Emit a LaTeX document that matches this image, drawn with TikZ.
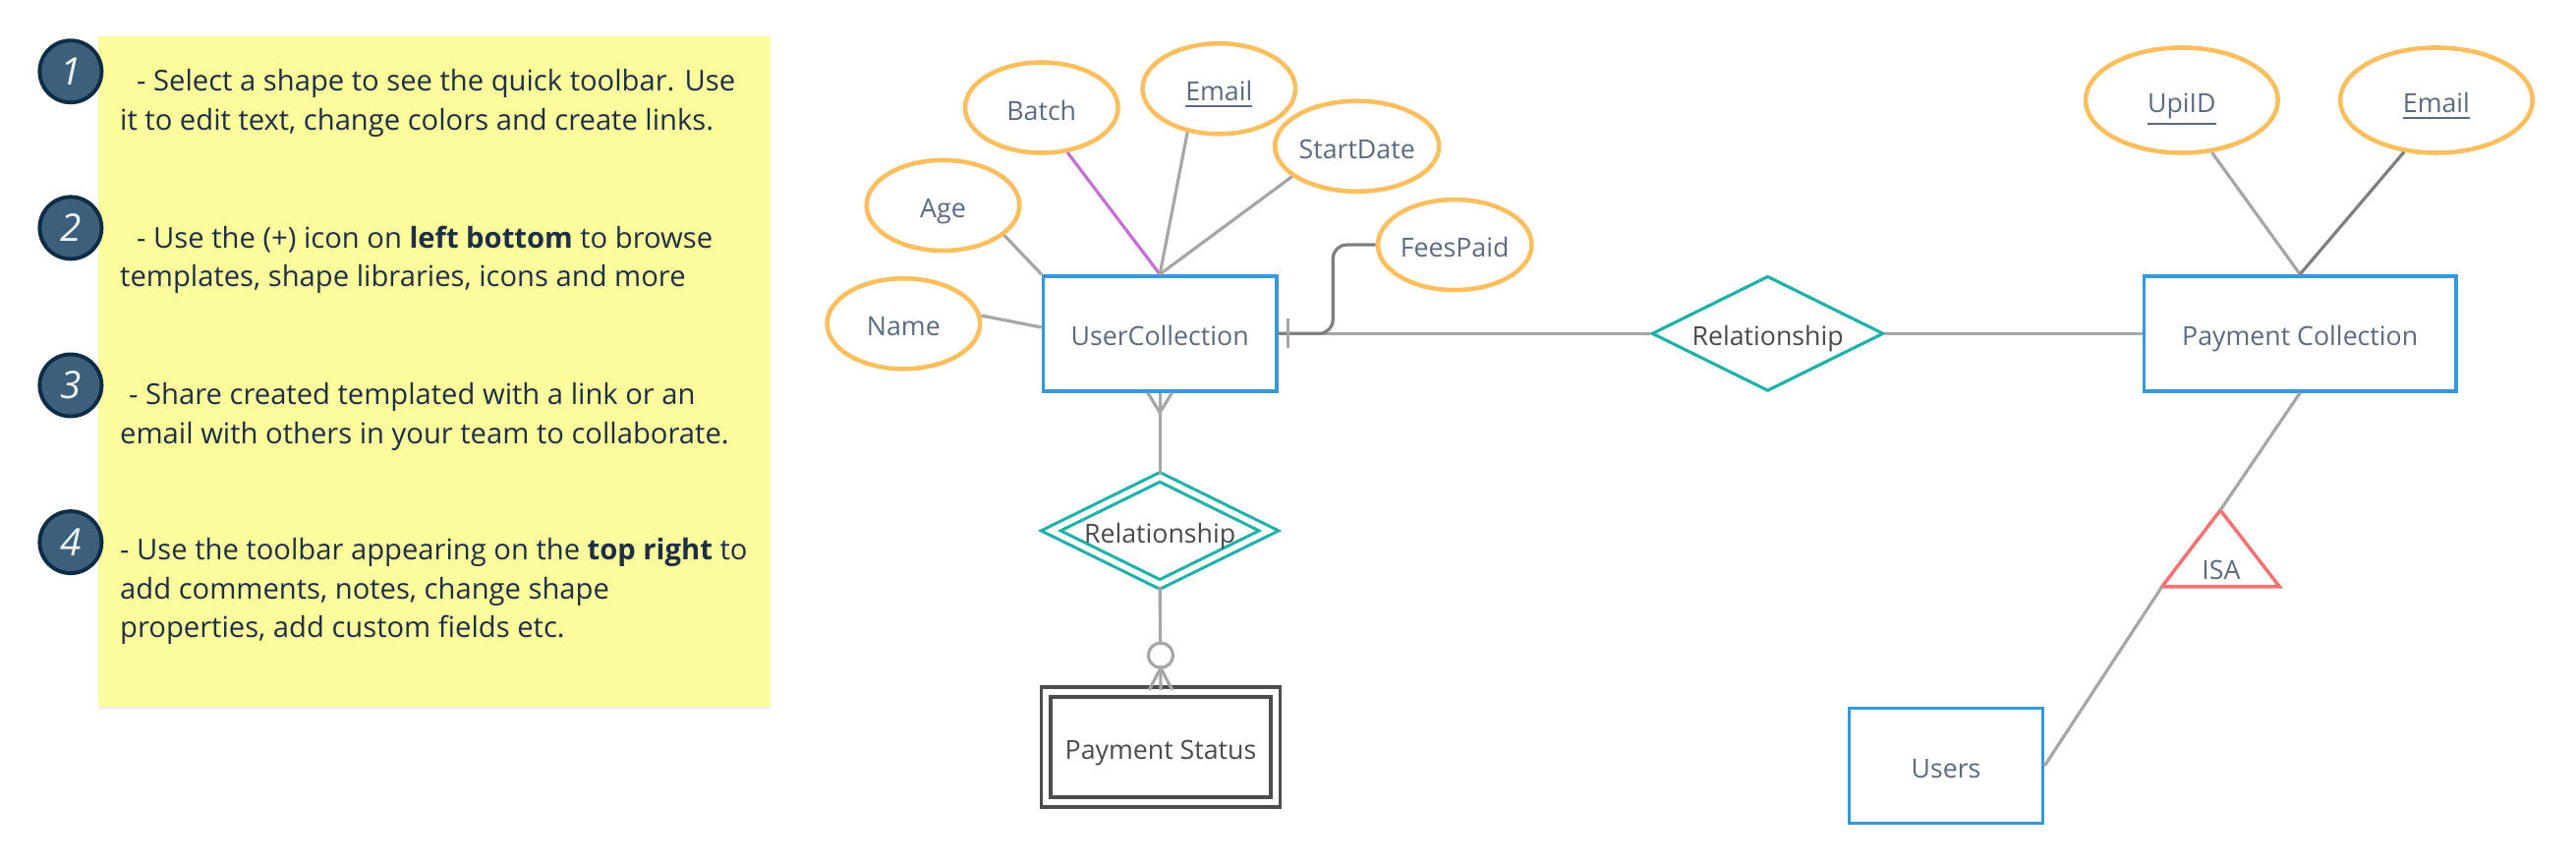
\documentclass[tikz,border=0pt]{standalone}
\usepackage{fontspec}
\setmainfont{Open Sans}
\usetikzlibrary{shapes.geometric,shadows}

\definecolor{notebg}{HTML}{FCFC9C}
\definecolor{notetext}{HTML}{1C2F45}
\definecolor{badgefill}{HTML}{3C607C}
\definecolor{badgeline}{HTML}{0E2C45}
\definecolor{entblue}{HTML}{3498DB}
\definecolor{attrorange}{HTML}{FCBF5F}
\definecolor{relteal}{HTML}{22B1AA}
\definecolor{isared}{HTML}{F47272}
\definecolor{weakgray}{HTML}{4D4D4D}
\definecolor{linkgray}{HTML}{A6A6A6}
\definecolor{linkdark}{HTML}{7F7F7F}
\definecolor{linkpurple}{HTML}{C86DD7}
\definecolor{labelslate}{HTML}{5A6B81}
\definecolor{labeldark}{HTML}{4A4A4A}

\tikzset{
  notebox/.style={fill=notebg, draw=none, drop shadow={opacity=0.12,shadow xshift=0pt,shadow yshift=-1pt}},
  badge/.style={circle, fill=badgefill, draw=badgeline, line width=1.1pt, minimum size=0.63cm, inner sep=0pt, text=white!92!badgefill, font=\fontsize{11}{13}\selectfont\itshape},
  notetxt/.style={anchor=base west, align=left, inner sep=0pt, text=notetext, font=\fontsize{8.3}{11.2}\selectfont},
  caps/.style={text height=0.72em, text depth=0pt},
  entity/.style={caps, draw=entblue, line width=1pt, minimum height=1.17cm, text=labelslate},
  attr/.style={caps, ellipse, draw=attrorange, line width=1.3pt, minimum width=1.555cm, minimum height=0.92cm, inner sep=0pt, text=labelslate},
  keyattr/.style={attr, minimum width=1.956cm, minimum height=1.07cm},
  rel/.style={caps, diamond, aspect=2, draw=relteal, line width=0.9pt, minimum width=2.357cm, minimum height=1.17cm, inner sep=0pt, text=labeldark},
  weakrel/.style={rel, double=white, double distance=0.055cm, minimum width=2.23cm, minimum height=1.103cm},
  weakent/.style={caps, draw=weakgray, line width=1.1pt, double=white, double distance=0.06cm, minimum width=2.33cm, minimum height=1.12cm, text=labeldark},
  isaline/.style={draw=isared, line width=1pt},
  link/.style={draw=linkgray, line width=0.9pt},
  darklink/.style={draw=linkdark, line width=0.9pt},
  purplelink/.style={draw=linkpurple, line width=0.9pt}
}

\begin{document}
\begin{tikzpicture}[x=0.016716cm,y=-0.016716cm,font=\fontsize{7.6}{11.2}\selectfont]
  \useasboundingbox (0,0) rectangle (1568,526);
  %\draw[help lines](0,0) grid (1568,526);

  % sticky note
  \draw[notebox] (60,22) rectangle (469,430);
  \draw (43,43.5) node[badge] (b1) {1};
  \draw (43,138.7) node[badge] (b2) {2};
  \draw (43,234.5) node[badge] (b3) {3};
  \draw (43,330) node[badge] (b4) {4};

  % baseline of each block is the one of its last line
  \draw (72.7,79) node[notetxt] (t1) {\hspace*{0.17cm}- Select a shape to see the quick toolbar. Use\\it to edit text, change colors and create links.};
  \draw (72.7,174.4) node[notetxt] (t2) {\hspace*{0.17cm}- Use the (+) icon on \textbf{left bottom} to browse\\templates, shape libraries, icons and more};
  \draw (72.7,270) node[notetxt] (t3) {\hspace*{0.09cm}- Share created templated with a link or an\\email with others in your team to collaborate.};
  \draw (72.7,388) node[notetxt] (t4) {- Use the toolbar appearing on the \textbf{top right} to\\add comments, notes, change shape\\properties, add custom fields etc.};

  % entities and attributes
  \draw (706,203) node[entity, minimum width=2.374cm] (uc) {UserCollection};
  \draw (550,197) node[attr] (name) {Name};
  \draw (574,125) node[attr] (age) {Age};
  \draw (634,65.5) node[attr] (batch) {Batch};
  \draw (742,54) node[attr] (email) {\underline{Email}};
  \draw (826,89) node[attr] (start) {StartDate};
  \draw (885.5,149) node[attr] (fees) {FeesPaid};

  \draw (1076,203) node[rel] (rel1) {Relationship};
  \draw (1400,203) node[entity, minimum width=3.176cm] (pc) {Payment Collection};
  \draw (1328,61) node[keyattr] (upi) {\underline{UpiID}};
  \draw (1483,61) node[keyattr] (pmail) {\underline{Email}};

  \draw (706,323) node[weakrel] (rel2) {Relationship};
  \draw (706.5,454.5) node[weakent] (ps) {Payment Status};
  \draw (1184.5,466) node[entity, minimum width=1.972cm] (users) {Users};

  \coordinate (isatop) at (1351.5,310.5);
  \coordinate (isaleft) at (1316,357);
  \coordinate (isaright) at (1387.5,357);
  \draw[isaline] (isatop) -- (isaright) -- (isaleft) -- cycle;
  \draw (1352,345) node[caps, text=labelslate] (isa) {ISA};

  % connectors
  \draw[link] (name.6) -- (uc.177);
  \draw[link] (age.334) -- (uc.north west);
  \draw[purplelink] (batch.300) -- (uc.north);
  \draw[link] (email.234) -- (uc.north);
  \draw[link] (start.205) -- (uc.north);
  \draw[link] (uc.east) -- (rel1.west);
  \draw[darklink, rounded corners=4pt] (fees.west) -- ++(-26,0) |- (uc.east);
  \draw[link] (uc.east) ++(5.7,-9) -- ++(0,18);
  \draw[link] (rel1.east) -- (pc.west);
  \draw[link] (upi.300) -- (pc.north);
  \draw[darklink] (pmail.238) -- (pc.north);
  \draw[link] (pc.south) -- (isatop);
  \draw[link] (isaleft) -- (users.east);

  \draw[link] (uc.south) -- (rel2.north);
  \draw[link] (uc.south) ++(-7.4,0) -- ++(7.4,12) -- ++(7.4,-12);
  \draw[link] (rel2.south) -- (ps.north);
  \draw[link, fill=white] (ps.north) ++(0,-21) circle[radius=7.5];
  \draw[link] (ps.north) ++(-7,0) -- ++(7,-13.3) -- ++(7,13.3);
\end{tikzpicture}
\end{document}
